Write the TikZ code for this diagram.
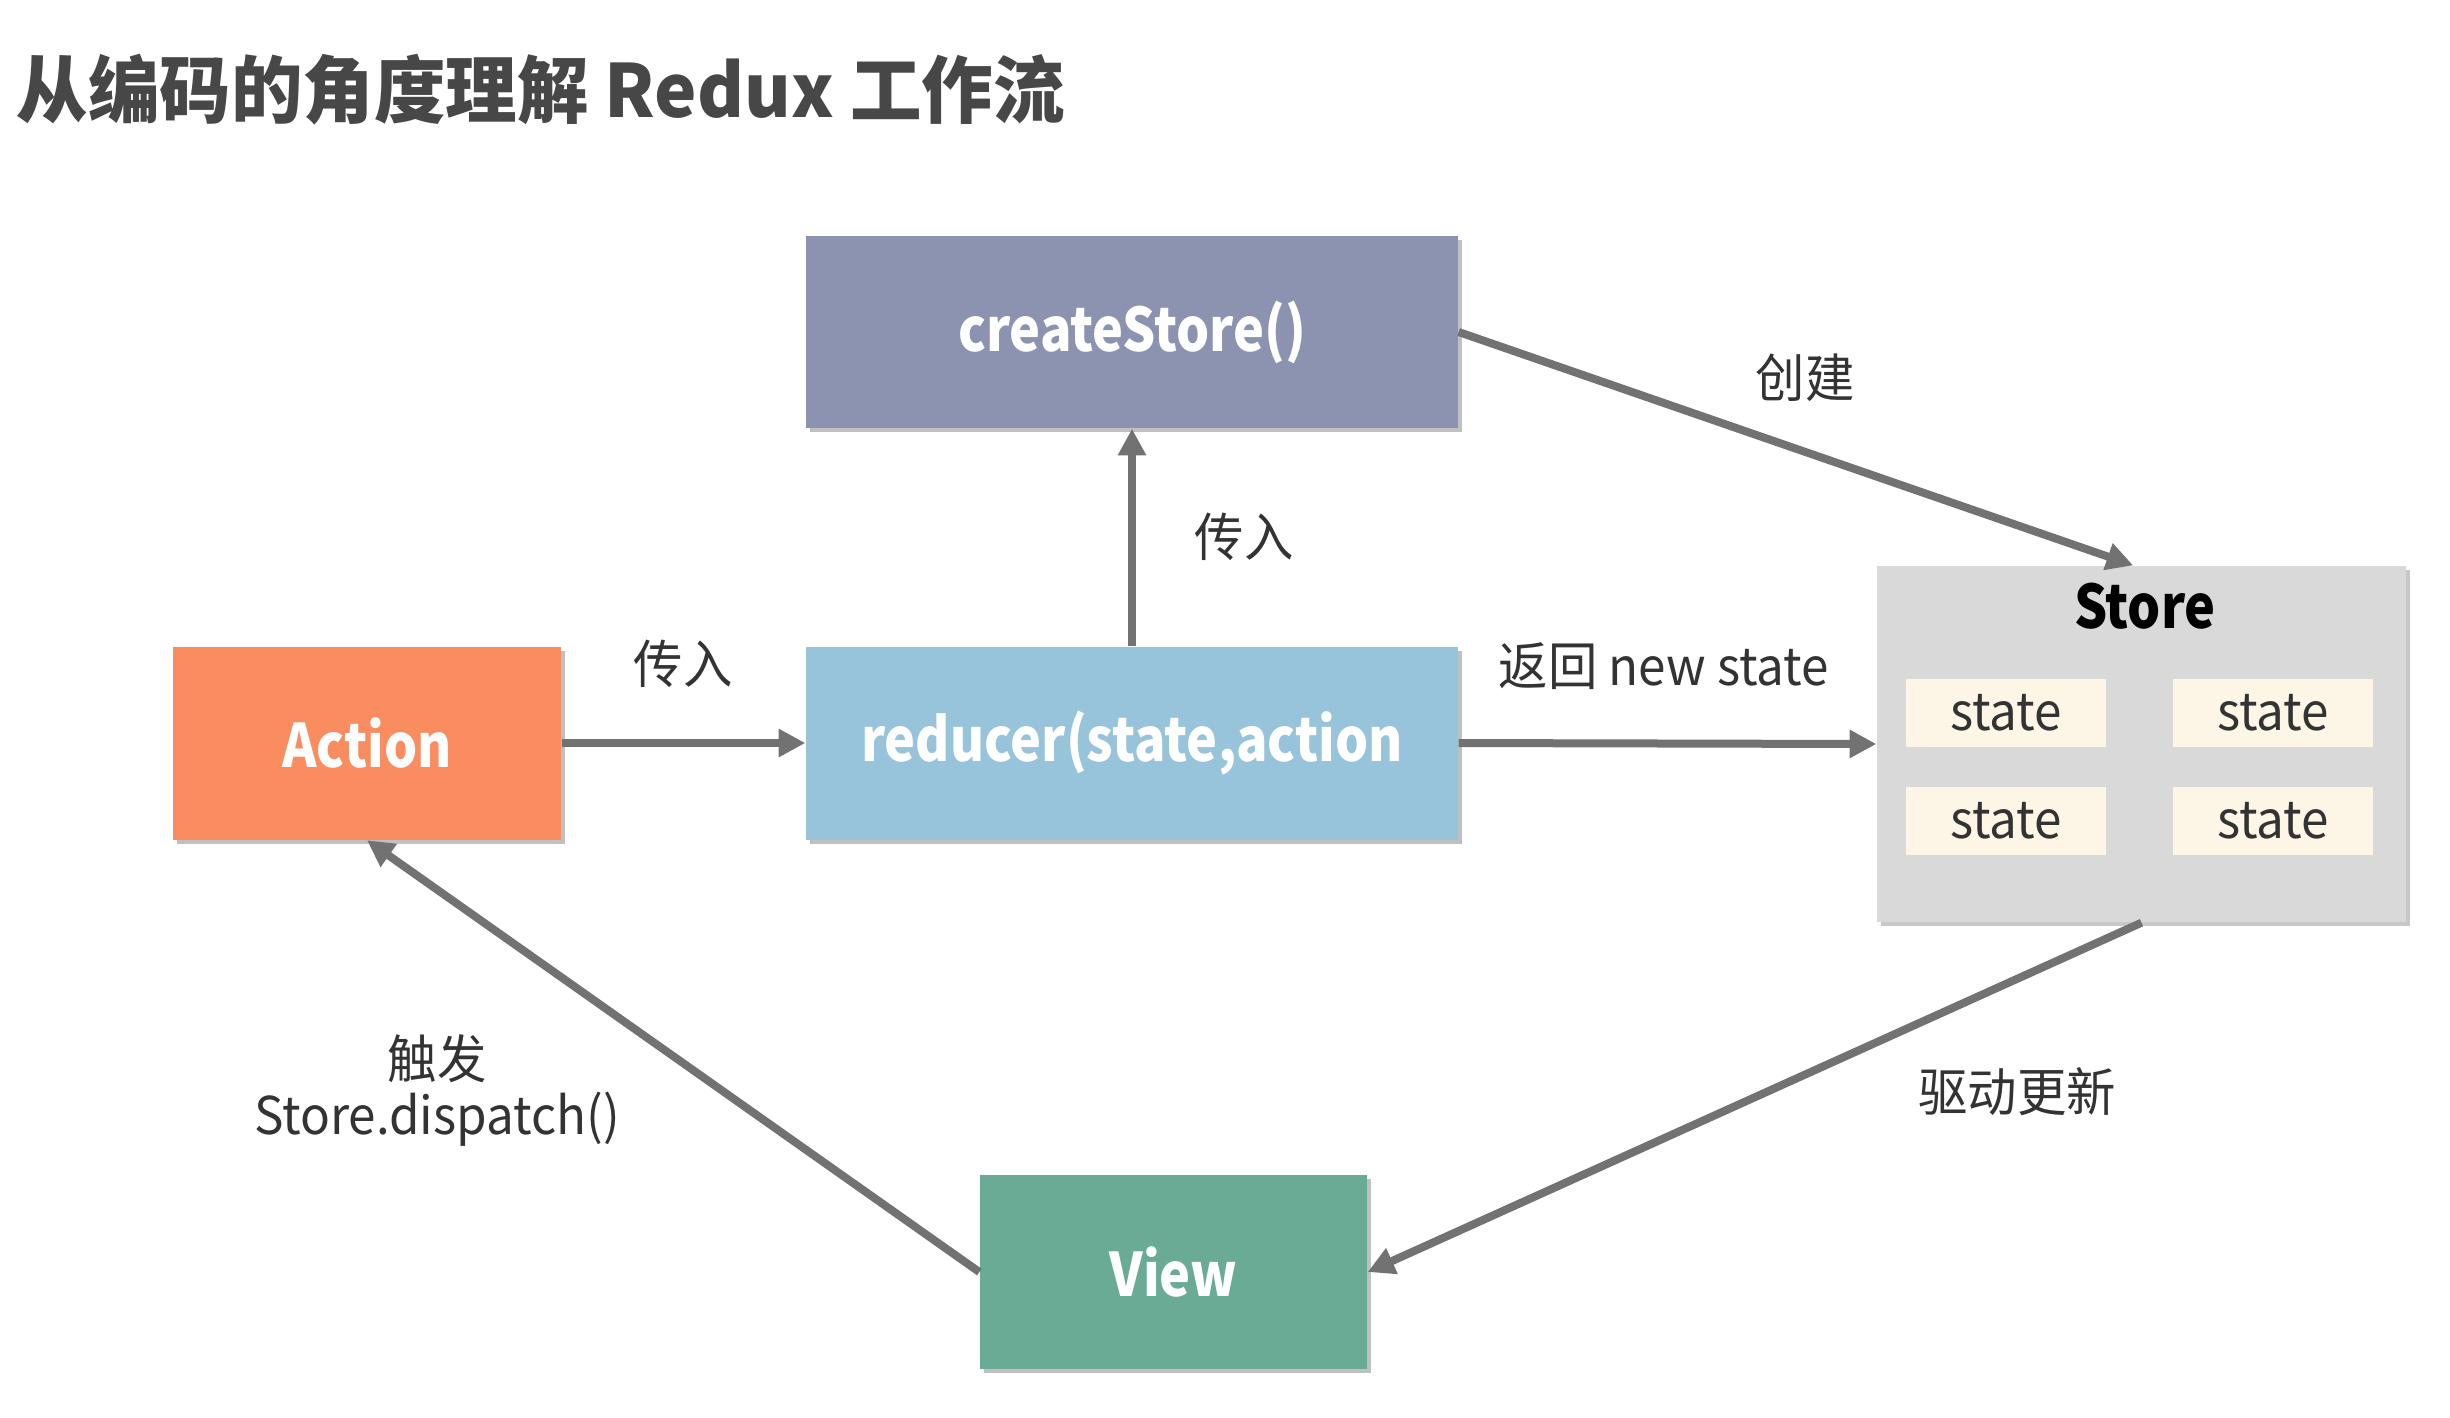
\documentclass[tikz,border=0pt]{standalone}
\usepackage{fontspec}
\setmainfont{Noto Sans CJK SC}
\usetikzlibrary{arrows.meta,shadows}
\definecolor{cCreate}{HTML}{8C93B1}
\definecolor{cReducer}{HTML}{97C3DB}
\definecolor{cAction}{HTML}{FA8D5F}
\definecolor{cView}{HTML}{69AB94}
\definecolor{cStore}{HTML}{D9D9D9}
\definecolor{cState}{HTML}{FDF6E6}
\definecolor{cArrow}{HTML}{727272}
\definecolor{cText}{HTML}{333333}
\definecolor{cTitle}{HTML}{474747}
\newcommand\boxtxt[1]{\scalebox{0.87}[1]{#1}}
\newcommand\lbltxt[1]{\scalebox{0.95}[1]{#1}}
\tikzset{
  box/.style={rectangle, inner sep=0pt, text=white, font=\fontsize{18}{22}\selectfont\bfseries,
    drop shadow={shadow xshift=1.3pt, shadow yshift=-1.3pt, opacity=0.35, fill=black!70}},
  statebox/.style={rectangle, fill=cState, inner sep=0pt, minimum width=60pt, minimum height=20.4pt,
    text=cText, font=\fontsize{15.6}{18}\selectfont},
  lbl/.style={text=cText, font=\fontsize{15.6}{18}\selectfont, inner sep=0pt},
  conn/.style={draw=cArrow, line width=2.4pt, -{Triangle[length=8pt,width=8pt]}}
}
\begin{document}
\begin{tikzpicture}[x=0.3pt,y=-0.3pt]
\useasboundingbox (0,0) rectangle (2450,1417);
\fill[white] (0,0) rectangle (2450,1417);
\node[anchor=west, inner sep=0pt, text=cTitle, font=\fontsize{22}{26}\selectfont\bfseries] (title) at (16,90) {\scalebox{0.975}[1]{从编码的角度理解 Redux 工作流}};

\node[box, fill=cCreate, minimum width=195.6pt, minimum height=57.6pt] (create) at (1132,332) {\boxtxt{createStore()}};
\node[box, fill=cReducer, minimum width=195.6pt, minimum height=57.9pt] (reducer) at (1132,743) {\boxtxt{reducer(state,action}};
\node[box, fill=cAction, minimum width=116.4pt, minimum height=57.9pt] (action) at (367,743) {\boxtxt{Action}};
\node[box, fill=cView, minimum width=116.1pt, minimum height=58.2pt] (view) at (1173.5,1272) {\boxtxt{View}};
\node[rectangle, inner sep=0pt, fill=cStore, minimum width=158.7pt, minimum height=106.8pt,
  drop shadow={shadow xshift=1.3pt, shadow yshift=-1.3pt, opacity=0.3, fill=black!70}] (store) at (2141.5,744) {};
\node[inner sep=0pt, text=black, font=\fontsize{18}{22}\selectfont\bfseries] (storelbl) at (2145,606) {\boxtxt{Store}};
\node[statebox] (s1) at (2006,713) {\lbltxt{state}};
\node[statebox] (s2) at (2273,713) {\lbltxt{state}};
\node[statebox] (s3) at (2006,821) {\lbltxt{state}};
\node[statebox] (s4) at (2273,821) {\lbltxt{state}};

\draw[conn] (action.east) -- (reducer.west);
\draw[conn] (reducer.north) -- (create.south);
\draw[conn] (create.east) -- ([xshift=-2.5pt]store.north);
\draw[conn] (reducer.east) -- (store.west);
\draw[conn] (store.south) -- (view.east);
\draw[conn] (view.west) -- (action.south);

\node[lbl] (l1) at (683,664) {\lbltxt{传入}};
\node[lbl] (l2) at (1244,537) {\lbltxt{传入}};
\node[lbl] (l3) at (1805,378) {\lbltxt{创建}};
\node[lbl] (l4) at (1664,666) {\lbltxt{返回 new state}};
\node[lbl] (l5) at (2017,1092) {\lbltxt{驱动更新}};
\node[lbl] (l6) at (437,1059) {\lbltxt{触发}};
\node[lbl] (l7) at (437,1119) {\lbltxt{Store.dispatch()}};
\end{tikzpicture}
\end{document}
